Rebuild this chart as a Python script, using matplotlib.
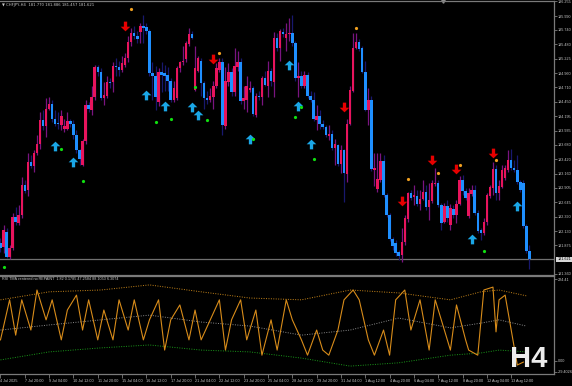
import numpy as np
import matplotlib
matplotlib.use("Agg")
import matplotlib.pyplot as plt
from matplotlib.path import Path
import matplotlib.transforms as mtransforms

# ---- H4 candles, CHFJPY ----
opens = [
181.92, 181.84, 182.11, 181.67, 181.83, 182.38, 182.27, 182.42, 182.95, 182.86,
183.37, 183.29, 183.53, 183.70, 184.12, 184.01, 184.33, 184.42, 184.15, 184.06,
184.03, 183.96, 183.97, 184.10, 184.05, 183.85, 183.58, 183.31, 183.74, 184.39,
184.30, 184.53, 185.07, 184.99, 184.51, 184.56, 184.80, 184.80, 185.10, 185.08,
185.03, 185.12, 185.24, 185.53, 185.69, 185.64, 185.71, 185.82, 185.80, 185.73,
184.96, 184.91, 184.44, 184.98, 184.96, 184.94, 184.82, 184.49, 184.51, 185.05,
185.16, 185.21, 185.49, 185.67, 184.67, 185.01, 185.19, 184.78, 184.51, 184.48,
184.53, 184.73, 185.03, 185.17, 184.01, 184.80, 184.99, 184.62, 185.08, 185.17,
184.46, 184.49, 184.67, 184.69, 184.21, 184.56, 184.53, 184.87, 184.74, 185.01,
184.80, 185.60, 185.42, 185.71, 185.60, 185.66, 185.69, 185.51, 184.87, 184.92,
184.73, 184.94, 184.56, 184.48, 184.12, 184.19, 184.06, 183.99, 183.83, 183.87,
183.63, 183.67, 183.33, 183.58, 183.15, 184.05, 184.65, 185.42, 185.53, 185.41,
184.98, 184.30, 184.49, 183.22, 182.88, 183.04, 183.38, 182.77, 182.42, 181.99,
181.92, 181.75, 181.70, 181.93, 182.35, 182.81, 182.74, 182.76, 182.61, 182.70,
182.83, 182.56, 182.67, 182.97, 182.99, 182.60, 182.29, 182.58, 182.24, 182.52,
182.42, 182.61, 183.04, 182.85, 182.40, 182.79, 182.86, 182.45, 182.15, 182.09,
182.29, 182.76, 182.90, 183.24, 182.81, 182.92, 183.08, 183.22, 183.40, 183.27,
183.22, 183.01, 182.99, 182.22, 181.770]
closes = [
181.83, 182.15, 181.67, 181.83, 182.38, 182.29, 182.42, 182.95, 182.85, 183.37,
183.29, 183.53, 183.70, 184.12, 184.01, 184.33, 184.42, 184.15, 184.06, 184.05,
184.19, 184.01, 184.10, 184.05, 183.85, 183.58, 183.42, 183.74, 184.39, 184.33,
184.53, 185.07, 184.99, 184.51, 184.58, 184.80, 184.78, 185.10, 185.07, 185.03,
185.14, 185.24, 185.53, 185.69, 185.64, 185.57, 185.82, 185.78, 185.73, 184.96,
184.91, 184.53, 184.98, 184.94, 184.92, 184.82, 184.49, 184.69, 185.05, 185.16,
185.19, 185.51, 185.67, 185.60, 185.05, 185.23, 184.78, 184.51, 184.49, 184.56,
184.74, 185.05, 185.17, 184.03, 184.82, 184.99, 184.62, 185.10, 185.17, 184.46,
184.51, 184.74, 184.69, 184.24, 184.56, 184.53, 184.87, 184.76, 185.01, 184.82,
185.60, 185.42, 185.73, 185.67, 185.67, 185.69, 185.51, 184.87, 184.92, 184.73,
184.94, 184.56, 184.48, 184.14, 184.19, 184.06, 183.99, 183.85, 183.88, 183.63,
183.69, 183.33, 183.58, 183.17, 184.06, 184.67, 185.42, 185.53, 185.39, 184.98,
184.31, 184.49, 183.24, 183.26, 183.06, 183.38, 182.77, 182.42, 181.99, 181.86,
181.74, 181.68, 181.93, 182.36, 182.81, 182.72, 182.77, 182.61, 182.70, 182.83,
182.56, 182.69, 182.99, 182.99, 182.60, 182.27, 182.58, 182.36, 182.54, 182.42,
182.61, 183.04, 182.85, 182.72, 182.81, 182.86, 182.45, 182.13, 182.09, 182.29,
182.77, 182.92, 183.24, 182.81, 182.94, 183.22, 183.26, 183.40, 183.27, 183.22,
183.01, 182.86, 182.22, 181.77, 181.621]
highs = [
182.00, 182.24, 182.18, 181.88, 182.45, 182.56, 182.60, 183.10, 183.04, 183.54,
183.49, 183.58, 183.85, 184.26, 184.30, 184.51, 184.53, 184.48, 184.30, 184.26,
184.30, 184.15, 184.26, 184.15, 184.12, 183.94, 183.61, 183.79, 184.48, 184.44,
184.74, 185.12, 185.12, 185.05, 184.80, 184.92, 184.87, 185.16, 185.24, 185.19,
185.28, 185.32, 185.64, 185.78, 185.82, 185.73, 185.87, 186.00, 185.87, 185.76,
185.16, 185.10, 185.05, 185.16, 185.12, 185.08, 184.87, 184.83, 185.10, 185.19,
185.46, 185.55, 185.78, 185.73, 185.46, 185.28, 185.24, 184.83, 184.65, 184.69,
184.83, 185.14, 185.24, 185.23, 185.07, 185.14, 185.05, 185.41, 185.37, 185.23,
184.74, 184.92, 184.83, 184.74, 184.60, 184.65, 184.91, 185.01, 185.19, 185.05,
185.71, 185.69, 185.76, 185.78, 185.87, 185.96, 186.01, 185.55, 185.16, 185.01,
185.01, 184.98, 184.65, 184.62, 184.39, 184.30, 184.12, 184.03, 184.03, 183.94,
183.79, 183.70, 183.67, 183.61, 184.15, 184.74, 185.69, 185.69, 185.58, 185.46,
185.19, 184.69, 184.55, 183.54, 183.54, 183.54, 183.49, 182.81, 182.45, 182.02,
181.97, 181.79, 182.18, 182.42, 182.83, 182.86, 182.95, 182.86, 182.86, 183.04,
182.95, 182.99, 183.04, 183.26, 183.04, 182.63, 182.63, 182.69, 182.61, 182.60,
182.69, 183.12, 183.13, 182.90, 182.90, 182.95, 182.95, 182.51, 182.18, 182.36,
182.81, 182.95, 183.37, 183.31, 183.04, 183.31, 183.31, 183.58, 183.61, 183.40,
183.49, 183.04, 183.04, 182.26, 181.886]
lows = [
181.75, 181.74, 181.65, 181.63, 181.79, 182.24, 182.24, 182.36, 182.81, 182.76,
183.26, 183.19, 183.49, 183.61, 183.94, 183.81, 184.30, 184.08, 184.01, 183.97,
183.94, 183.90, 183.94, 183.99, 183.79, 183.54, 183.31, 183.29, 183.70, 184.26,
184.21, 184.48, 184.92, 184.48, 184.40, 184.51, 184.69, 184.62, 184.92, 184.92,
184.98, 185.08, 185.16, 185.46, 185.58, 185.51, 185.51, 185.51, 185.67, 184.92,
184.48, 184.30, 184.37, 184.62, 184.65, 184.65, 184.44, 184.44, 184.48, 184.98,
185.12, 185.16, 185.46, 185.57, 184.65, 184.98, 184.56, 184.33, 184.42, 184.44,
184.33, 184.69, 184.98, 183.85, 183.97, 184.74, 184.55, 184.56, 185.01, 184.42,
184.33, 184.26, 184.62, 184.19, 184.17, 184.48, 184.39, 184.73, 184.53, 184.74,
184.53, 185.37, 185.19, 185.62, 185.37, 185.55, 185.46, 184.83, 184.53, 184.69,
184.69, 184.51, 184.44, 184.10, 183.94, 183.97, 183.96, 183.81, 183.76, 183.58,
183.31, 183.29, 183.17, 182.65, 183.01, 184.03, 184.62, 185.39, 185.37, 184.96,
184.28, 184.03, 183.20, 182.94, 182.83, 183.01, 182.74, 182.38, 181.95, 181.79,
181.68, 181.61, 181.57, 181.88, 182.29, 182.69, 182.60, 182.58, 182.51, 182.69,
182.51, 182.33, 182.63, 182.94, 182.56, 182.15, 182.27, 182.29, 182.15, 182.36,
182.27, 182.60, 182.77, 182.69, 182.36, 182.76, 182.42, 182.09, 181.97, 182.06,
182.24, 182.72, 182.77, 182.69, 182.69, 182.90, 183.04, 183.19, 183.22, 183.19,
182.97, 182.83, 182.18, 181.74, 181.457]

# signal markers (bar index, price)
sell_arrow_bar = [41, 70, 113, 132, 142, 150, 162]
sell_arrow_px = [185.82, 185.21, 184.35, 182.67, 183.40, 183.24, 183.53]
sell_dot_bar = [43, 72, 117, 134, 144, 151, 163]
sell_dot_px = [186.12, 185.33, 185.78, 183.06, 183.17, 183.31, 183.40]
buy_arrow_bar = [18, 24, 48, 54, 63, 65, 82, 95, 98, 102, 155, 170]
buy_arrow_px = [183.65, 183.37, 184.58, 184.37, 184.35, 184.21, 183.79, 185.12, 184.37, 183.70, 181.99, 182.58]
buy_dot_bar = [1, 20, 27, 51, 56, 64, 68, 83, 97, 99, 103, 159]
buy_dot_px = [181.49, 183.61, 183.03, 184.08, 184.15, 184.71, 184.12, 183.79, 184.17, 184.35, 183.42, 181.77]

# lower indicator
rsi_bar = [0, 3, 5, 7, 10, 12, 15, 17, 20, 22, 25, 27, 29, 32, 34, 37, 39, 42, 44, 47,
           49, 52, 54, 56, 59, 62, 64, 66, 69, 72, 74, 76, 79, 81, 84, 86, 89, 91, 94, 96,
           99, 101, 104, 106, 108, 111, 113, 116, 118, 121, 123, 126, 128, 130, 133, 135, 138,
           141, 143, 145, 148, 150, 153, 154, 157, 159, 162, 163, 164, 166, 168, 170, 172]
rsi_val = [58, 168, 71, 168, 85, 195, 113, 168, 58, 140, 181, 85, 168, 58, 140, 58, 168, 85, 168, 58,
           113, 168, 30, 113, 154, 58, 140, 58, 113, 168, 30, 113, 168, 58, 140, 16, 113, 30, 168, 113,
           58, 16, 85, 30, 16, 85, 168, 195, 168, 58, 16, 85, 16, 168, 195, 85, 168,
           30, 168, 113, 30, 154, 58, 30, 16, 195, 203, 80, 168, 181, 85, -11, -3]
band_bar = [0, 16, 33, 49, 66, 82, 99, 115, 131, 148, 158, 164, 173]
band_up = [168, 190, 195, 209, 190, 173, 168, 195, 187, 168, 190, 195, 179]
band_mid = [85, 99, 113, 126, 107, 96, 71, 85, 118, 91, 104, 113, 96]
band_lo = [3, 25, 36, 44, 30, 25, 8, -14, -5, 16, 22, 30, 25]

price_ticks = [186.255, 185.990, 185.740, 185.480, 185.225, 184.960, 184.710, 184.450, 184.195,
               183.935, 183.680, 183.420, 183.160, 182.905, 182.645, 182.390, 182.130, 181.875, 181.360]
ind_ticks = [224.41, 0.0, -29.4026]
ind_labels = ["224.41", "0.00", "-29.4026"]
date_labels = ["4 Jul 2025", "7 Jul 20:00", "9 Jul 04:00", "10 Jul 12:00", "11 Jul 20:00",
               "15 Jul 04:00", "16 Jul 12:00", "17 Jul 20:00", "21 Jul 04:00", "22 Jul 12:00",
               "23 Jul 20:00", "25 Jul 04:00", "28 Jul 12:00", "29 Jul 20:00", "31 Jul 04:00",
               "1 Aug 12:00", "4 Aug 20:00", "6 Aug 04:00", "7 Aug 12:00", "8 Aug 20:00",
               "12 Aug 04:00", "13 Aug 12:00"]

BG = "black"
GRID = "#7a7a7a"
TXT = "#c8c8c8"
FONT = "Liberation Sans"
FS = 2.7

fig = plt.figure(figsize=(5.72, 3.86), dpi=100, facecolor=BG)
ax = fig.add_axes([0, 0.2876, 0.9685, 0.7098], facecolor=BG)
ax2 = fig.add_axes([0, 0.0311, 0.9685, 0.2539], facecolor=BG)

o = np.array(opens); c = np.array(closes); h = np.array(highs); l = np.array(lows)
x = np.arange(len(o))
up = c > o
wick_col = np.where(up, "#7a1480", "#18186e")
body_col = np.where(up, "#e8145c", "#1e8fff")
ax.vlines(x, l, h, colors=wick_col, lw=0.9, zorder=2)
bh = np.maximum(np.abs(c - o), 0.02)
ax.bar(x, bh, bottom=np.minimum(o, c), width=0.82, color=body_col, lw=0, zorder=3)

# arrow markers
up_arrow = Path([(0, 0.5), (0.5, 0.02), (0.17, 0.02), (0.17, -0.5), (-0.17, -0.5),
                 (-0.17, 0.02), (-0.5, 0.02), (0, 0.5)])
dn_arrow = Path([(vx, -vy) for vx, vy in up_arrow.vertices])
ax.plot(buy_arrow_bar, buy_arrow_px, ls="none", marker=up_arrow, ms=7, color="#1aa6e6", mew=0, zorder=5)
ax.plot(sell_arrow_bar, sell_arrow_px, ls="none", marker=dn_arrow, ms=7, color="#e60000", mew=0, zorder=5)
ax.plot(buy_dot_bar, buy_dot_px, ls="none", marker="o", ms=2.3, color="#10e010", mew=0, zorder=5)
ax.plot(sell_dot_bar, sell_dot_px, ls="none", marker="o", ms=2.3, color="#f0a020", mew=0, zorder=5)

# bid line + label
bid = closes[-1]
ax.axhline(bid, color="#707070", lw=0.9, zorder=1)
tr = mtransforms.blended_transform_factory(ax.transAxes, ax.transData)
ax.text(1.006, bid, "%.3f" % bid, transform=tr, fontsize=FS, family=FONT, color="black",
        va="center", ha="left", bbox=dict(boxstyle="square,pad=0.25", fc="#d8d8d8", ec="none"),
        clip_on=False, zorder=6)
ax.plot([145.6], [1.0], marker="v", ms=2.5, color="#909090",
        transform=mtransforms.blended_transform_factory(ax.transData, ax.transAxes), clip_on=False)

ax.set_xlim(-0.16, 182.07)
ax.set_ylim(181.342, 186.26)
ax.set_yticks(price_ticks)
ax.set_yticklabels(["%.3f" % t for t in price_ticks])
ax.set_xticks([])

ax.text(0.004, 0.992, "\u25bc CHFJPY,H4  %.3f %.3f %.3f %.3f" % (opens[-1], highs[-1], lows[-1], closes[-1]),
        transform=ax.transAxes, fontsize=FS, family=["DejaVu Sans"], color=TXT, va="top", ha="left")

# lower panel
ax2.plot(band_bar, band_up, color="#c8861a", lw=0.7, ls=(0, (1, 1.5)))
ax2.plot(band_bar, band_mid, color="#8c8c8c", lw=0.7, ls=(0, (1, 1.5)))
ax2.plot(band_bar, band_lo, color="#1a9a1a", lw=0.7, ls=(0, (1, 1.5)))
ax2.plot(rsi_bar, rsi_val, color="#d88c1a", lw=0.8)
ax2.set_xlim(-0.16, 182.07)
ax2.set_ylim(-35.7, 233.5)
ax2.set_yticks(ind_ticks)
ax2.set_yticklabels(ind_labels)
ax2.text(0.004, 0.985, "RSI TMA centered no REPAINT  1.82 0.1785 47.2584 88.1053 6.3074",
         transform=ax2.transAxes, fontsize=FS, family=FONT, color=TXT, va="top", ha="left")
# big timeframe label, placed in figure pixels (origin bottom-left)
ax2.text(510, 19, "H4", transform=None, fontsize=21, family=FONT, weight="bold",
         color="#ececec", va="baseline", ha="left", zorder=10)
ax2.set_xticks(np.arange(0, 8 * len(date_labels), 8))
ax2.set_xticklabels(date_labels, ha="left")

for a in (ax, ax2):
    a.yaxis.tick_right()
    a.tick_params(axis="y", colors=GRID, length=2, width=0.6, pad=1, labelsize=FS, labelcolor=TXT)
    a.tick_params(axis="x", colors=GRID, length=3, width=0.6, pad=0.5, labelsize=FS, labelcolor=TXT)
    for lab in a.get_yticklabels() + a.get_xticklabels():
        lab.set_family(FONT)
    a.spines["left"].set_visible(False)
    for s in ("top", "bottom", "right"):
        a.spines[s].set_color(GRID)
        a.spines[s].set_linewidth(0.9)

fig.savefig("out.png", dpi=100, facecolor=BG)
